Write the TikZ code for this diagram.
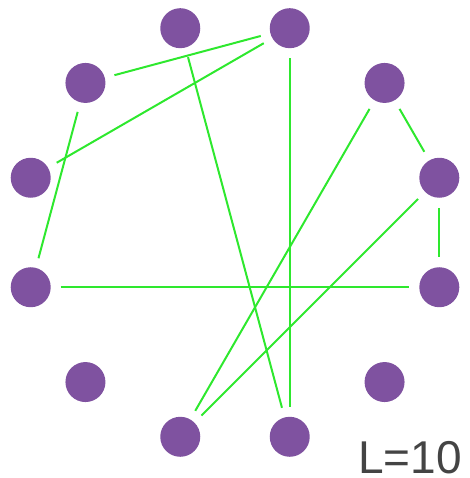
\documentclass[tikz,border=0pt]{standalone}
\usepackage{fontspec}
\setmainfont{Liberation Sans}
\usetikzlibrary{calc}
\definecolor{cVertex}{RGB}{127,82,160}
\definecolor{cEdge}{RGB}{46,232,46}
\definecolor{cLabel}{RGB}{68,68,68}

\begin{document}
\begin{tikzpicture}[x=1pt,y=1pt,
  vertex/.style={circle,fill=cVertex,minimum size=40pt,inner sep=0pt,outer sep=10pt},
  edge/.style={cEdge,line width=2pt}]
  \useasboundingbox (0,0) rectangle (469,478);
  \coordinate (c) at (235,245.5);
  % twelve vertices on a ring
  \foreach \k in {0,...,11}
    \node[vertex] (v\k) at ($(c)+({15+30*\k}:211.5)$) {};
  % edges
  \foreach \a/\b in {2/4, 2/5, 3/9, 2/9, 4/6, 1/0, 0/11, 6/11, 1/8, 0/8}
    \draw[edge] (v\a) -- (v\b);
  \node[anchor=base east,text=cLabel,font=\fontsize{46}{50}\selectfont,inner sep=0pt] (len) at (462,5) {L=10};
\end{tikzpicture}
\end{document}
